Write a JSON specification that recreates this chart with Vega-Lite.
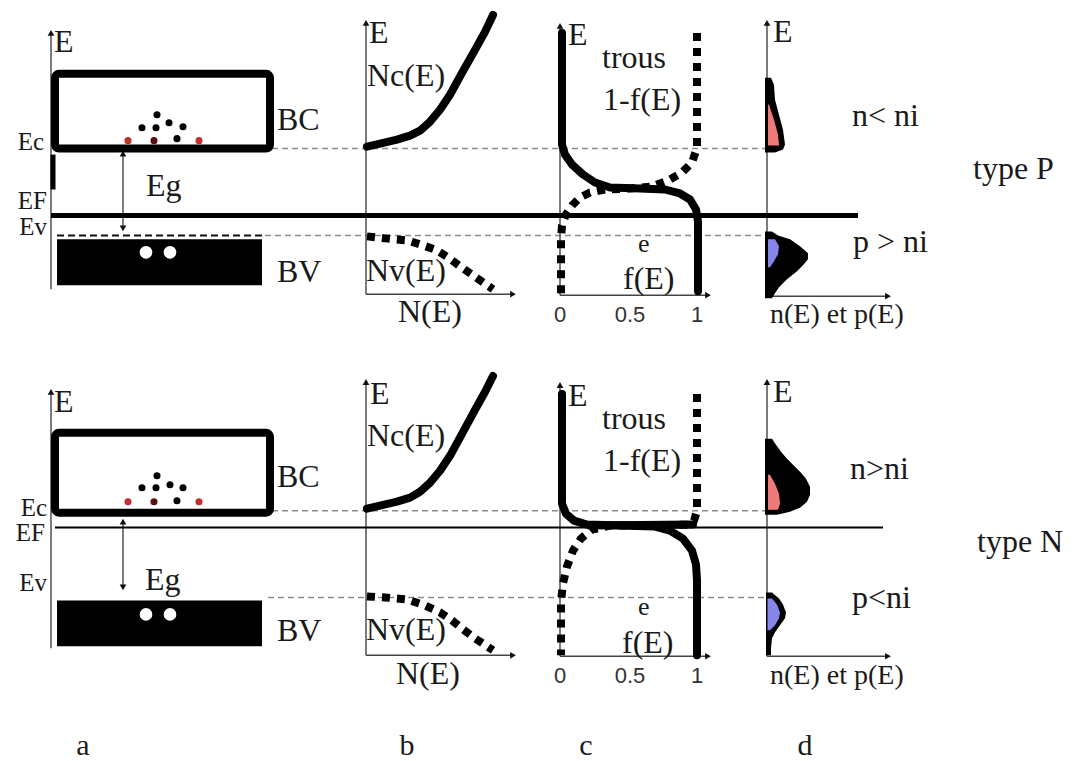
{
  "$schema": "https://vega.github.io/schema/vega-lite/v6.json",
  "width": 1078,
  "height": 761,
  "autosize": {"type": "fit", "contains": "padding"},
  "padding": 0,
  "background": "white",
  "config": {"view": {"stroke": null}},
  "resolve": {"scale": {"color": "independent"}},
  "datasets": {
    "thin": [
      {"x": 51, "y": 33, "x2": 51, "y2": 290},
      {"x": 366, "y": 23, "x2": 366, "y2": 295},
      {"x": 366, "y": 295, "x2": 513, "y2": 295},
      {"x": 560, "y": 26, "x2": 560, "y2": 296},
      {"x": 560, "y": 296, "x2": 708, "y2": 296},
      {"x": 767, "y": 23, "x2": 767, "y2": 297},
      {"x": 767, "y": 297, "x2": 888, "y2": 297},
      {"x": 123, "y": 154, "x2": 123, "y2": 229},
      {"x": 51, "y": 393, "x2": 51, "y2": 650},
      {"x": 366, "y": 383, "x2": 366, "y2": 657},
      {"x": 366, "y": 657, "x2": 513, "y2": 657},
      {"x": 560, "y": 386, "x2": 560, "y2": 658},
      {"x": 560, "y": 658, "x2": 708, "y2": 658},
      {"x": 767, "y": 383, "x2": 767, "y2": 658},
      {"x": 767, "y": 658, "x2": 888, "y2": 658},
      {"x": 123, "y": 523, "x2": 123, "y2": 589}
    ],
    "arrows": [
      {"x": 51, "y": 33, "dir": "up"},
      {"x": 366, "y": 23, "dir": "up"},
      {"x": 513, "y": 295, "dir": "right"},
      {"x": 560, "y": 26, "dir": "up"},
      {"x": 708, "y": 296, "dir": "right"},
      {"x": 767, "y": 23, "dir": "up"},
      {"x": 888, "y": 297, "dir": "right"},
      {"x": 123, "y": 154, "dir": "up"},
      {"x": 123, "y": 229, "dir": "down"},
      {"x": 51, "y": 393, "dir": "up"},
      {"x": 366, "y": 383, "dir": "up"},
      {"x": 513, "y": 657, "dir": "right"},
      {"x": 560, "y": 386, "dir": "up"},
      {"x": 708, "y": 658, "dir": "right"},
      {"x": 767, "y": 383, "dir": "up"},
      {"x": 888, "y": 658, "dir": "right"},
      {"x": 123, "y": 523, "dir": "up"},
      {"x": 123, "y": 589, "dir": "down"}
    ],
    "grayDash": [
      {"x": 272, "y": 149, "x2": 767, "y2": 149},
      {"x": 265, "y": 236, "x2": 767, "y2": 236},
      {"x": 272, "y": 512, "x2": 767, "y2": 512},
      {"x": 268, "y": 599, "x2": 767, "y2": 599}
    ],
    "blackDash": [
      {"x": 57, "y": 236, "x2": 265, "y2": 236}
    ],
    "fermiThick": [
      {"x": 51, "y": 216, "x2": 858, "y2": 216},
      {"x": 53, "y": 155, "x2": 53, "y2": 190}
    ],
    "fermiThin": [
      {"x": 55, "y": 529, "x2": 883, "y2": 529}
    ],
    "boxes": [
      {"x": 55, "y": 74, "x2": 270, "y2": 149},
      {"x": 55, "y": 434, "x2": 270, "y2": 514}
    ],
    "vbands": [
      {"x": 57, "y": 240, "x2": 262, "y2": 286},
      {"x": 57, "y": 602, "x2": 262, "y2": 648}
    ],
    "dots": [
      {"x": 157, "y": 115, "c": "k"}, {"x": 142, "y": 128, "c": "k"}, {"x": 156, "y": 128, "c": "k"},
      {"x": 169, "y": 123, "c": "k"}, {"x": 183, "y": 127, "c": "k"}, {"x": 128, "y": 141, "c": "r"},
      {"x": 154, "y": 141, "c": "d"}, {"x": 177, "y": 139, "c": "k"}, {"x": 199, "y": 141, "c": "r"},
      {"x": 157, "y": 477, "c": "k"}, {"x": 142, "y": 489, "c": "k"}, {"x": 156, "y": 489, "c": "k"},
      {"x": 170, "y": 486, "c": "k"}, {"x": 183, "y": 489, "c": "k"}, {"x": 128, "y": 503, "c": "r"},
      {"x": 154, "y": 503, "c": "d"}, {"x": 177, "y": 502, "c": "k"}, {"x": 199, "y": 503, "c": "r"}
    ],
    "holes": [
      {"x": 146, "y": 253}, {"x": 170, "y": 253},
      {"x": 146, "y": 616}, {"x": 170, "y": 616}
    ],
    "solid": [
      {"id": "NcT", "i": 1, "x": 367, "y": 147}, {"id": "NcT", "i": 2, "x": 380, "y": 144},
      {"id": "NcT", "i": 3, "x": 397, "y": 140}, {"id": "NcT", "i": 4, "x": 410, "y": 136},
      {"id": "NcT", "i": 5, "x": 420, "y": 131}, {"id": "NcT", "i": 6, "x": 430, "y": 122},
      {"id": "NcT", "i": 7, "x": 440, "y": 110}, {"id": "NcT", "i": 8, "x": 450, "y": 95},
      {"id": "NcT", "i": 9, "x": 462, "y": 73}, {"id": "NcT", "i": 10, "x": 475, "y": 50},
      {"id": "NcT", "i": 11, "x": 485, "y": 32}, {"id": "NcT", "i": 12, "x": 493, "y": 15},
      {"id": "fT", "i": 1, "x": 562, "y": 33}, {"id": "fT", "i": 2, "x": 562, "y": 145},
      {"id": "fT", "i": 3, "x": 565, "y": 155}, {"id": "fT", "i": 4, "x": 572, "y": 165},
      {"id": "fT", "i": 5, "x": 583, "y": 175}, {"id": "fT", "i": 6, "x": 595, "y": 183},
      {"id": "fT", "i": 7, "x": 610, "y": 188}, {"id": "fT", "i": 8, "x": 640, "y": 189},
      {"id": "fT", "i": 9, "x": 665, "y": 190}, {"id": "fT", "i": 10, "x": 680, "y": 194},
      {"id": "fT", "i": 11, "x": 690, "y": 200}, {"id": "fT", "i": 12, "x": 696, "y": 210},
      {"id": "fT", "i": 13, "x": 698, "y": 222}, {"id": "fT", "i": 14, "x": 698, "y": 292},
      {"id": "NcB", "i": 1, "x": 367, "y": 510}, {"id": "NcB", "i": 2, "x": 380, "y": 507},
      {"id": "NcB", "i": 3, "x": 397, "y": 503}, {"id": "NcB", "i": 4, "x": 410, "y": 499},
      {"id": "NcB", "i": 5, "x": 420, "y": 493}, {"id": "NcB", "i": 6, "x": 430, "y": 484},
      {"id": "NcB", "i": 7, "x": 440, "y": 472}, {"id": "NcB", "i": 8, "x": 450, "y": 457},
      {"id": "NcB", "i": 9, "x": 462, "y": 435}, {"id": "NcB", "i": 10, "x": 475, "y": 411},
      {"id": "NcB", "i": 11, "x": 485, "y": 393}, {"id": "NcB", "i": 12, "x": 493, "y": 377},
      {"id": "fB", "i": 1, "x": 562, "y": 395}, {"id": "fB", "i": 2, "x": 562, "y": 505},
      {"id": "fB", "i": 3, "x": 566, "y": 515}, {"id": "fB", "i": 4, "x": 574, "y": 522},
      {"id": "fB", "i": 5, "x": 587, "y": 526}, {"id": "fB", "i": 6, "x": 620, "y": 527},
      {"id": "fB", "i": 7, "x": 655, "y": 528}, {"id": "fB", "i": 8, "x": 670, "y": 532},
      {"id": "fB", "i": 9, "x": 683, "y": 540}, {"id": "fB", "i": 10, "x": 692, "y": 552},
      {"id": "fB", "i": 11, "x": 696, "y": 566}, {"id": "fB", "i": 12, "x": 697, "y": 582},
      {"id": "fB", "i": 13, "x": 697, "y": 657},
      {"id": "flatB", "i": 1, "x": 590, "y": 527}, {"id": "flatB", "i": 2, "x": 693, "y": 526}
    ],
    "dashed": [
      {"id": "NvT", "i": 1, "x": 367, "y": 237}, {"id": "NvT", "i": 2, "x": 385, "y": 239},
      {"id": "NvT", "i": 3, "x": 407, "y": 241}, {"id": "NvT", "i": 4, "x": 423, "y": 246},
      {"id": "NvT", "i": 5, "x": 437, "y": 251}, {"id": "NvT", "i": 6, "x": 448, "y": 258},
      {"id": "NvT", "i": 7, "x": 460, "y": 267}, {"id": "NvT", "i": 8, "x": 470, "y": 274},
      {"id": "NvT", "i": 9, "x": 480, "y": 281}, {"id": "NvT", "i": 10, "x": 493, "y": 290},
      {"id": "gT", "i": 1, "x": 697, "y": 33}, {"id": "gT", "i": 2, "x": 697, "y": 148},
      {"id": "gT", "i": 3, "x": 692, "y": 163}, {"id": "gT", "i": 4, "x": 682, "y": 173},
      {"id": "gT", "i": 5, "x": 668, "y": 181}, {"id": "gT", "i": 6, "x": 652, "y": 187},
      {"id": "gT", "i": 7, "x": 630, "y": 189}, {"id": "gT", "i": 8, "x": 605, "y": 190},
      {"id": "gT", "i": 9, "x": 590, "y": 193}, {"id": "gT", "i": 10, "x": 580, "y": 198},
      {"id": "gT", "i": 11, "x": 572, "y": 206}, {"id": "gT", "i": 12, "x": 566, "y": 215},
      {"id": "gT", "i": 13, "x": 562, "y": 226}, {"id": "gT", "i": 14, "x": 561, "y": 240},
      {"id": "gT", "i": 15, "x": 561, "y": 294},
      {"id": "NvB", "i": 1, "x": 367, "y": 598}, {"id": "NvB", "i": 2, "x": 385, "y": 599},
      {"id": "NvB", "i": 3, "x": 407, "y": 601}, {"id": "NvB", "i": 4, "x": 425, "y": 607},
      {"id": "NvB", "i": 5, "x": 440, "y": 614}, {"id": "NvB", "i": 6, "x": 452, "y": 622},
      {"id": "NvB", "i": 7, "x": 463, "y": 631}, {"id": "NvB", "i": 8, "x": 475, "y": 640},
      {"id": "NvB", "i": 9, "x": 493, "y": 652},
      {"id": "gB", "i": 1, "x": 697, "y": 395}, {"id": "gB", "i": 2, "x": 697, "y": 512},
      {"id": "gB", "i": 3, "x": 694, "y": 522}, {"id": "gB", "i": 4, "x": 688, "y": 526},
      {"id": "gB", "i": 5, "x": 650, "y": 527}, {"id": "gB", "i": 6, "x": 610, "y": 527},
      {"id": "gB", "i": 7, "x": 592, "y": 531}, {"id": "gB", "i": 8, "x": 581, "y": 540},
      {"id": "gB", "i": 9, "x": 573, "y": 552}, {"id": "gB", "i": 10, "x": 567, "y": 568},
      {"id": "gB", "i": 11, "x": 563, "y": 585}, {"id": "gB", "i": 12, "x": 561, "y": 603},
      {"id": "gB", "i": 13, "x": 561, "y": 657}
    ],
    "blobs": [
      {"id": "nT", "y": 78, "x": 771, "x2": 765}, {"id": "nT", "y": 85, "x": 774, "x2": 765},
      {"id": "nT", "y": 100, "x": 775, "x2": 765}, {"id": "nT", "y": 115, "x": 779, "x2": 765},
      {"id": "nT", "y": 130, "x": 783, "x2": 765}, {"id": "nT", "y": 145, "x": 785, "x2": 765},
      {"id": "nT", "y": 150, "x": 783, "x2": 765}, {"id": "nT", "y": 153, "x": 775, "x2": 765},
      {"id": "pT", "y": 232, "x": 772, "x2": 765}, {"id": "pT", "y": 236, "x": 778, "x2": 765},
      {"id": "pT", "y": 240, "x": 790, "x2": 765}, {"id": "pT", "y": 247, "x": 800, "x2": 765},
      {"id": "pT", "y": 254, "x": 808, "x2": 765}, {"id": "pT", "y": 260, "x": 808, "x2": 765},
      {"id": "pT", "y": 266, "x": 803, "x2": 765}, {"id": "pT", "y": 272, "x": 797, "x2": 765},
      {"id": "pT", "y": 280, "x": 787, "x2": 765}, {"id": "pT", "y": 288, "x": 779, "x2": 765},
      {"id": "pT", "y": 294, "x": 775, "x2": 765}, {"id": "pT", "y": 299, "x": 772, "x2": 765},
      {"id": "nB", "y": 440, "x": 772, "x2": 765}, {"id": "nB", "y": 446, "x": 776, "x2": 765},
      {"id": "nB", "y": 453, "x": 781, "x2": 765}, {"id": "nB", "y": 460, "x": 787, "x2": 765},
      {"id": "nB", "y": 467, "x": 794, "x2": 765}, {"id": "nB", "y": 474, "x": 801, "x2": 765},
      {"id": "nB", "y": 480, "x": 806, "x2": 765}, {"id": "nB", "y": 488, "x": 810, "x2": 765},
      {"id": "nB", "y": 496, "x": 810, "x2": 765}, {"id": "nB", "y": 503, "x": 807, "x2": 765},
      {"id": "nB", "y": 509, "x": 800, "x2": 765}, {"id": "nB", "y": 513, "x": 790, "x2": 765},
      {"id": "nB", "y": 516, "x": 777, "x2": 765},
      {"id": "pB", "y": 594, "x": 772, "x2": 766}, {"id": "pB", "y": 600, "x": 779, "x2": 766},
      {"id": "pB", "y": 606, "x": 783, "x2": 766}, {"id": "pB", "y": 614, "x": 786, "x2": 766},
      {"id": "pB", "y": 620, "x": 785, "x2": 766}, {"id": "pB", "y": 627, "x": 780, "x2": 766},
      {"id": "pB", "y": 634, "x": 775, "x2": 766}, {"id": "pB", "y": 640, "x": 772, "x2": 766},
      {"id": "pB", "y": 650, "x": 771, "x2": 766}, {"id": "pB", "y": 657, "x": 771, "x2": 766}
    ],
    "inner": [
      {"id": "nTi", "c": "n", "y": 105, "x": 769, "x2": 768}, {"id": "nTi", "c": "n", "y": 120, "x": 774, "x2": 768},
      {"id": "nTi", "c": "n", "y": 135, "x": 778, "x2": 768}, {"id": "nTi", "c": "n", "y": 146, "x": 779, "x2": 768},
      {"id": "pTi", "c": "p", "y": 240, "x": 775, "x2": 768}, {"id": "pTi", "c": "p", "y": 247, "x": 779, "x2": 768},
      {"id": "pTi", "c": "p", "y": 255, "x": 778, "x2": 768}, {"id": "pTi", "c": "p", "y": 262, "x": 774, "x2": 768},
      {"id": "pTi", "c": "p", "y": 268, "x": 770, "x2": 768},
      {"id": "nBi", "c": "n", "y": 476, "x": 770, "x2": 768}, {"id": "nBi", "c": "n", "y": 485, "x": 775, "x2": 768},
      {"id": "nBi", "c": "n", "y": 495, "x": 779, "x2": 768}, {"id": "nBi", "c": "n", "y": 505, "x": 780, "x2": 768},
      {"id": "nBi", "c": "n", "y": 511, "x": 778, "x2": 768},
      {"id": "pBi", "c": "p", "y": 600, "x": 772, "x2": 767.5}, {"id": "pBi", "c": "p", "y": 606, "x": 777, "x2": 767.5},
      {"id": "pBi", "c": "p", "y": 614, "x": 780, "x2": 767.5}, {"id": "pBi", "c": "p", "y": 620, "x": 779, "x2": 767.5},
      {"id": "pBi", "c": "p", "y": 627, "x": 775, "x2": 767.5}, {"id": "pBi", "c": "p", "y": 632, "x": 770, "x2": 767.5}
    ],
    "txtBig": [
      {"t": "E", "x": 54, "y": 52}, {"t": "E", "x": 369, "y": 43}, {"t": "E", "x": 568, "y": 45}, {"t": "E", "x": 773, "y": 42},
      {"t": "BC", "x": 277, "y": 130}, {"t": "BV", "x": 277, "y": 283}, {"t": "Eg", "x": 146, "y": 197},
      {"t": "Nc(E)", "x": 367, "y": 86}, {"t": "Nv(E)", "x": 366, "y": 282}, {"t": "N(E)", "x": 398, "y": 323},
      {"t": "trous", "x": 602, "y": 68}, {"t": "1-f(E)", "x": 603, "y": 110}, {"t": "f(E)", "x": 623, "y": 290},
      {"t": "n< ni", "x": 852, "y": 126}, {"t": "p > ni", "x": 853, "y": 253}, {"t": "type P", "x": 973, "y": 179},
      {"t": "E", "x": 54, "y": 413}, {"t": "E", "x": 370, "y": 405}, {"t": "E", "x": 568, "y": 407}, {"t": "E", "x": 773, "y": 403},
      {"t": "BC", "x": 277, "y": 488}, {"t": "BV", "x": 277, "y": 643}, {"t": "Eg", "x": 145, "y": 592},
      {"t": "Nc(E)", "x": 367, "y": 447}, {"t": "Nv(E)", "x": 366, "y": 642}, {"t": "N(E)", "x": 396, "y": 686},
      {"t": "trous", "x": 602, "y": 430}, {"t": "1-f(E)", "x": 603, "y": 472}, {"t": "f(E)", "x": 622, "y": 655},
      {"t": "n>ni", "x": 850, "y": 480}, {"t": "p<ni", "x": 852, "y": 610}, {"t": "type N", "x": 977, "y": 553}
    ],
    "txtLeft": [
      {"t": "Ec", "x": 44, "y": 150}, {"t": "EF", "x": 47, "y": 210}, {"t": "Ev", "x": 47, "y": 236},
      {"t": "Ec", "x": 47, "y": 517}, {"t": "EF", "x": 45, "y": 542}, {"t": "Ev", "x": 47, "y": 593}
    ],
    "txtMed": [
      {"t": "n(E) et p(E)", "x": 770, "y": 324},
      {"t": "n(E) et p(E)", "x": 770, "y": 686}
    ],
    "txtSmall": [
      {"t": "e", "x": 638, "y": 253},
      {"t": "e", "x": 638, "y": 617}
    ],
    "ticks": [
      {"t": "0", "x": 560, "y": 323}, {"t": "0.5", "x": 630, "y": 323}, {"t": "1", "x": 697, "y": 323},
      {"t": "0", "x": 560, "y": 685}, {"t": "0.5", "x": 630, "y": 685}, {"t": "1", "x": 697, "y": 685}
    ],
    "letters": [
      {"t": "a", "x": 83, "y": 757}, {"t": "b", "x": 407, "y": 757},
      {"t": "c", "x": 586, "y": 757}, {"t": "d", "x": 805, "y": 757}
    ]
  },
  "encoding": {
    "x": {"field": "x", "type": "quantitative", "scale": {"domain": [0, 1078], "nice": false, "zero": false}, "axis": null},
    "y": {"field": "y", "type": "quantitative", "scale": {"domain": [0, 761], "nice": false, "zero": false, "reverse": true}, "axis": null}
  },
  "layer": [
    {
      "data": {"name": "grayDash"},
      "mark": {"type": "rule", "color": "#8a8a8a", "strokeWidth": 1.5, "strokeDash": [6, 4]},
      "encoding": {"x2": {"field": "x2"}, "y2": {"field": "y2"}}
    },
    {
      "data": {"name": "blackDash"},
      "mark": {"type": "rule", "color": "#111", "strokeWidth": 2, "strokeDash": [7, 4]},
      "encoding": {"x2": {"field": "x2"}, "y2": {"field": "y2"}}
    },
    {
      "data": {"name": "thin"},
      "mark": {"type": "rule", "color": "#444", "strokeWidth": 1.4},
      "encoding": {"x2": {"field": "x2"}, "y2": {"field": "y2"}}
    },
    {
      "data": {"name": "fermiThick"},
      "mark": {"type": "rule", "color": "#000", "strokeWidth": 5},
      "encoding": {"x2": {"field": "x2"}, "y2": {"field": "y2"}}
    },
    {
      "data": {"name": "fermiThin"},
      "mark": {"type": "rule", "color": "#000", "strokeWidth": 2},
      "encoding": {"x2": {"field": "x2"}, "y2": {"field": "y2"}}
    },
    {
      "data": {"name": "arrows"},
      "mark": {"type": "point", "filled": true, "color": "#111", "size": 45, "opacity": 1},
      "encoding": {
        "shape": {"field": "dir", "type": "nominal", "scale": {"domain": ["up", "down", "right"], "range": ["triangle-up", "triangle-down", "triangle-right"]}, "legend": null}
      }
    },
    {
      "data": {"name": "boxes"},
      "mark": {"type": "rect", "fill": null, "fillOpacity": 0, "stroke": "#000", "strokeWidth": 8, "cornerRadius": 4},
      "encoding": {"x2": {"field": "x2"}, "y2": {"field": "y2"}}
    },
    {
      "data": {"name": "vbands"},
      "mark": {"type": "rect", "color": "#000"},
      "encoding": {"x2": {"field": "x2"}, "y2": {"field": "y2"}}
    },
    {
      "data": {"name": "dots"},
      "mark": {"type": "circle", "size": 50, "opacity": 1},
      "encoding": {
        "color": {"field": "c", "type": "nominal", "scale": {"domain": ["k", "r", "d"], "range": ["#000000", "#c0302c", "#5a1010"]}, "legend": null}
      }
    },
    {
      "data": {"name": "holes"},
      "mark": {"type": "circle", "size": 160, "color": "#ffffff", "opacity": 1}
    },
    {
      "data": {"name": "blobs"},
      "mark": {"type": "area", "orient": "horizontal", "color": "#000", "opacity": 1},
      "encoding": {"x2": {"field": "x2"}, "detail": {"field": "id"}}
    },
    {
      "data": {"name": "inner"},
      "mark": {"type": "area", "orient": "horizontal", "opacity": 1},
      "encoding": {
        "x2": {"field": "x2"},
        "detail": {"field": "id"},
        "color": {"field": "c", "type": "nominal", "scale": {"domain": ["n", "p"], "range": ["#f07a7a", "#8585ea"]}, "legend": null}
      }
    },
    {
      "data": {"name": "dashed"},
      "mark": {"type": "line", "color": "#000", "strokeWidth": 8, "strokeDash": [8, 7], "strokeCap": "butt", "strokeJoin": "round"},
      "encoding": {"detail": {"field": "id"}, "order": {"field": "i"}}
    },
    {
      "data": {"name": "solid"},
      "mark": {"type": "line", "color": "#000", "strokeWidth": 8, "strokeCap": "round", "strokeJoin": "round"},
      "encoding": {"detail": {"field": "id"}, "order": {"field": "i"}}
    },
    {
      "data": {"name": "txtBig"},
      "mark": {"type": "text", "font": "'Liberation Serif', 'Times New Roman', serif", "fontSize": 32, "align": "left", "baseline": "alphabetic", "color": "#1a1a1a"},
      "encoding": {"text": {"field": "t"}}
    },
    {
      "data": {"name": "txtLeft"},
      "mark": {"type": "text", "font": "'Liberation Serif', 'Times New Roman', serif", "fontSize": 25, "align": "right", "baseline": "alphabetic", "color": "#1a1a1a"},
      "encoding": {"text": {"field": "t"}}
    },
    {
      "data": {"name": "txtMed"},
      "mark": {"type": "text", "font": "'Liberation Serif', 'Times New Roman', serif", "fontSize": 28, "align": "left", "baseline": "alphabetic", "color": "#1a1a1a"},
      "encoding": {"text": {"field": "t"}}
    },
    {
      "data": {"name": "txtSmall"},
      "mark": {"type": "text", "font": "'Liberation Serif', 'Times New Roman', serif", "fontSize": 26, "align": "left", "baseline": "alphabetic", "color": "#1a1a1a"},
      "encoding": {"text": {"field": "t"}}
    },
    {
      "data": {"name": "ticks"},
      "mark": {"type": "text", "font": "'Liberation Sans', Arial, sans-serif", "fontSize": 22, "align": "center", "baseline": "alphabetic", "color": "#333"},
      "encoding": {"text": {"field": "t"}}
    },
    {
      "data": {"name": "letters"},
      "mark": {"type": "text", "font": "'Liberation Serif', 'Times New Roman', serif", "fontSize": 30, "align": "center", "baseline": "alphabetic", "color": "#1a1a1a"},
      "encoding": {"text": {"field": "t"}}
    }
  ]
}
